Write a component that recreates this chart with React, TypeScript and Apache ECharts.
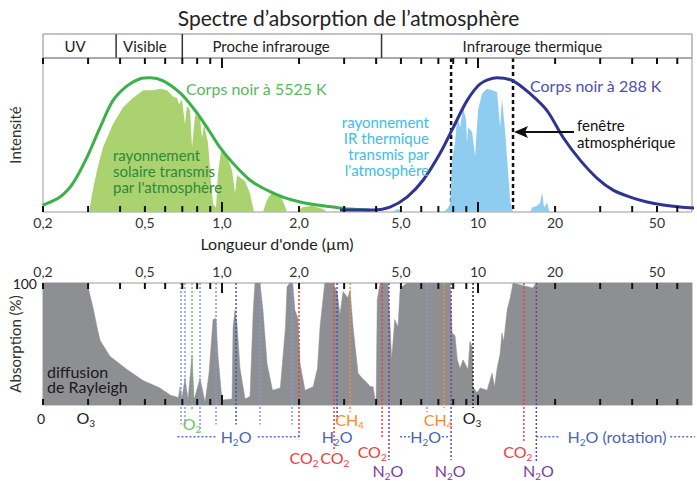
import React, { useEffect, useRef } from 'react';
import * as echarts from 'echarts';

const FONT = 'Lato, "Open Sans", "DejaVu Sans", sans-serif';

// ---- axis (wavelength, µm, log scale) ----
const X_MIN_UM = 0.2;
const X_MAX_UM = 68.5;
const tickUm = [0.2, 0.3, 0.4, 0.5, 0.6, 0.7, 0.8, 0.9, 1, 2, 3, 4, 5, 6, 7, 8, 9, 10, 20, 30, 40, 50, 60];
const longTickUm = [1, 10];
const tickLabelUm = [0.2, 0.5, 1, 2, 5, 10, 20, 50];
const tickLabelText = ['0,2', '0,5', '1,0', '2,0', '5,0', '10', '20', '50'];

// ---- spectral bands header ----
const bandEdgeUm = [0.386, 0.7, 4.2];
const bandLabelUm = [0.267, 0.5, 1.555, 16.3];
const bandLabelText = ['UV', 'Visible', 'Proche infrarouge', 'Infrarouge thermique'];

// ---- black body curves (normalised intensity) ----
const sunUm = [0.2, 0.233, 0.262, 0.297, 0.334, 0.375, 0.426, 0.479, 0.524, 0.589, 0.686, 0.771, 0.875, 0.982, 1.104, 1.288, 1.5, 1.73, 2.02, 2.35, 2.72, 3.16, 3.79];
const sunI = [0.045, 0.097, 0.187, 0.355, 0.548, 0.723, 0.819, 0.865, 0.871, 0.852, 0.774, 0.677, 0.548, 0.419, 0.316, 0.206, 0.142, 0.097, 0.065, 0.045, 0.032, 0.019, 0.012];
const earthUm = [2.89, 3.89, 4.53, 5.28, 6.1, 7.11, 8.0, 9.06, 10.2, 11.86, 13.7, 15.97, 18.6, 21.5, 25.1, 29.2, 33.7, 39.3, 45.7, 52.8, 61.5, 70.5];
const earthI = [0.013, 0.013, 0.032, 0.097, 0.206, 0.381, 0.548, 0.723, 0.832, 0.871, 0.852, 0.768, 0.658, 0.484, 0.335, 0.219, 0.142, 0.097, 0.065, 0.045, 0.032, 0.026];

// ---- transmitted radiation ----
const solarUm = [0.303, 0.311, 0.325, 0.343, 0.375, 0.411, 0.449, 0.492, 0.538, 0.573, 0.61, 0.644, 0.667, 0.68, 0.698, 0.717, 0.73, 0.75, 0.764, 0.785, 0.821, 0.836, 0.851, 0.882, 0.905, 0.923, 0.948, 0.965, 0.992, 1.042, 1.095, 1.125, 1.145, 1.231, 1.287, 1.334, 1.445, 1.5, 1.575, 1.69, 1.75, 1.795, 1.965, 2.05, 2.25, 2.48, 2.573];
const solarI = [0, 0.12, 0.27, 0.42, 0.57, 0.68, 0.74, 0.79, 0.79, 0.8, 0.79, 0.75, 0.74, 0.7, 0.73, 0.57, 0.69, 0.66, 0.42, 0.63, 0.61, 0.48, 0.57, 0.45, 0.2, 0.05, 0.03, 0.25, 0.4, 0.37, 0.27, 0.12, 0.24, 0.2, 0.12, 0, 0, 0.08, 0.13, 0.11, 0.05, 0, 0, 0.03, 0.04, 0.02, 0];
const irUm = [4.6, 4.87, 5.1, 7.3, 7.57, 7.78, 7.92, 8.13, 8.3, 8.51, 8.74, 8.98, 9.06, 9.14, 9.48, 9.74, 10.0, 10.37, 10.85, 11.35, 11.87, 12.2, 12.4, 12.75, 13.0, 13.36, 13.7, 15.97, 16.27, 17.0, 17.5, 17.8, 18.1, 18.6, 19.0];
const irI = [0, 0.02, 0, 0, 0.02, 0.05, 0.34, 0.45, 0.62, 0.55, 0.68, 0.6, 0.45, 0.55, 0.52, 0.36, 0.66, 0.77, 0.8, 0.79, 0.78, 0.55, 0.74, 0.53, 0.34, 0.07, 0, 0, 0.03, 0.04, 0.06, 0.13, 0.03, 0.06, 0];
const windowUm = [7.85, 13.7];

// ---- absorption (%) ----
const absUm = [0.2, 0.3, 0.302, 0.3135, 0.325, 0.334, 0.365, 0.426, 0.492, 0.573, 0.589, 0.61, 0.629, 0.6555, 0.676, 0.686, 0.698, 0.717, 0.737, 0.764, 0.778, 0.821, 0.859, 0.89, 0.923, 0.948, 0.965, 1.0, 1.095, 1.105, 1.125, 1.145, 1.176, 1.231, 1.287, 1.325, 1.346, 1.408, 1.445, 1.5, 1.575, 1.69, 1.77, 1.795, 1.84, 1.89, 1.925, 1.98, 2.018, 2.11, 2.27, 2.36, 2.415, 2.52, 2.71, 2.815, 2.89, 2.97, 3.1, 3.165, 3.25, 3.4, 3.53, 3.69, 3.8, 3.89, 3.96, 4.0, 4.04, 4.15, 4.45, 4.6, 4.73, 4.87, 4.96, 5.05, 5.28, 7.78, 7.92, 8.13, 8.3, 8.51, 8.74, 9.14, 9.3, 9.48, 9.56, 9.9, 10.2, 10.85, 11.35, 11.6, 11.87, 12.2, 12.4, 12.6, 13.0, 13.36, 13.7, 16.35, 16.9, 68.5];
const absPct = [100, 100, 94, 80, 64, 53, 40, 29, 20, 14, 12, 10, 8, 7, 6, 15, 5, 22, 4, 41, 4, 22, 2, 26, 70, 71, 40, 4, 5, 64, 78, 66, 30, 5, 7, 78, 100, 100, 78, 34, 12, 14, 64, 97, 100, 100, 78, 71, 34, 12, 15, 30, 64, 100, 100, 93, 74, 93, 88, 94, 64, 26, 22, 18, 15, 15, 5, 0, 86, 100, 100, 37, 70, 64, 94, 97, 100, 100, 59, 57, 37, 30, 37, 29, 52, 48, 15, 10, 14, 12, 26, 15, 30, 42, 59, 52, 78, 88, 100, 96, 100, 100];

// ---- absorbing gases ----
const H2O_LIGHT = '#8499d8';
const H2O_DARK = '#3f56b2';
const CO2_C = '#ee3d3d';
const CH4_C = '#f58c35';
const N2O_C = '#7a3f9d';
const O2_C = '#6cc466';
const O3_C = '#222222';
const gasLineUm = [0.692, 0.717, 0.764, 0.821, 0.948, 1.135, 1.408, 1.878, 2.0, 2.74, 2.815, 3.165, 4.22, 4.49, 6.32, 7.37, 7.85, 9.56, 15.1, 16.9];
const gasLineEnd = [-16, -16, -4, -22, -16, -16, -16, -16, -28, -38, -15, -6, -27, -45, -6, -2.5, -45, -2.5, -30, -47];
const gasLineColor = [H2O_LIGHT, H2O_LIGHT, O2_C, H2O_LIGHT, H2O_LIGHT, H2O_DARK, H2O_LIGHT, H2O_LIGHT, CO2_C, CO2_C, H2O_DARK, CH4_C, CO2_C, N2O_C, H2O_LIGHT, CH4_C, N2O_C, O3_C, CO2_C, N2O_C];
const bracketStartUm = [0.67, 1.38, 4.96, 7.24, 16.9, 56.3];
const bracketEndUm = [0.96, 2.0, 5.43, 7.64, 20.9, 70.5];
const BRACKET_LEVEL = -26;
const gasLabelUm = [0.294, 0.764, 1.135, 2.09, 2.76, 3.15, 2.815, 3.86, 4.45, 6.25, 6.98, 9.48, 7.78, 14.3, 17.2, 34.9];
const gasLabelLevel = [-10, -15.5, -26, -43, -43, -11.5, -26, -38, -54, -26, -11.5, -10, -54, -38, -54, -26];
const gasLabelFormula = ['O3', 'O2', 'H2O', 'CO2', 'CO2', 'CH4', 'H2O', 'CO2', 'N2O', 'H2O', 'CH4', 'O3', 'N2O', 'CO2', 'N2O', 'H2O (rotation)'];
const gasLabelColor = [O3_C, O2_C, '#4a64b8', CO2_C, CO2_C, CH4_C, '#4a64b8', CO2_C, N2O_C, '#4a64b8', CH4_C, O3_C, N2O_C, CO2_C, N2O_C, '#4a64b8'];

const L = (w: number) => Math.log10(w);
const pairs = (xs: number[], ys: number[]) => xs.map((w, i) => [L(w), ys[i]]);
const toRich = (s: string) => s.replace(/(\D+)|(\d+)/g, (_m: string, a: string, d: string) => (a ? `{m|${a}}` : `{s|${d}}`));

function buildOption(): any {
  const tickSeries = (g: number) => ({
    type: 'custom', xAxisIndex: g, yAxisIndex: g, silent: true, z: 6,
    data: tickUm.map((w) => [L(w), longTickUm.includes(w) ? 1 : 0]),
    renderItem: (params: any, api: any) => {
      const cs = params.coordSys;
      const x = api.coord([api.value(0), 0])[0];
      const len = api.value(1) ? 10 : 6;
      const st = { stroke: '#111', lineWidth: 2 };
      return {
        type: 'group', children: [
          { type: 'line', shape: { x1: x, y1: cs.y, x2: x, y2: cs.y + len }, style: st },
          { type: 'line', shape: { x1: x, y1: cs.y + cs.height, x2: x, y2: cs.y + cs.height - len }, style: st },
        ],
      };
    },
  });
  const tickLabelSeries = (g: number, above: boolean) => ({
    type: 'custom', xAxisIndex: g, yAxisIndex: g, silent: true, z: 6,
    data: tickLabelUm.map((w) => [L(w), 0]),
    renderItem: (params: any, api: any) => {
      const cs = params.coordSys;
      const x = api.coord([api.value(0), 0])[0];
      return {
        type: 'text', x, y: above ? cs.y - 12 : cs.y + cs.height + 10,
        style: { text: tickLabelText[params.dataIndex], fill: '#333', fontSize: 14, fontFamily: FONT, align: 'center', verticalAlign: 'middle' },
      };
    },
  });

  return {
    animation: false,
    backgroundColor: '#fff',
    title: {
      text: 'Spectre d’absorption de l’atmosphère', left: 'center', top: 2,
      textStyle: { fontSize: 21, fontWeight: 'normal', color: '#222', fontFamily: FONT },
    },
    grid: [
      { left: 43, top: 58, width: 649, height: 154, show: true, borderColor: '#999', borderWidth: 1, backgroundColor: 'transparent', outerBoundsMode: 'none', containLabel: false },
      { left: 43, top: 283, width: 649, height: 122, show: true, borderColor: '#999', borderWidth: 1, backgroundColor: 'transparent', outerBoundsMode: 'none', containLabel: false },
    ],
    xAxis: [0, 1].map((g) => ({ type: 'value', gridIndex: g, min: L(X_MIN_UM), max: L(X_MAX_UM), show: false })),
    yAxis: [
      {
        type: 'value', gridIndex: 0, min: 0, max: 1, name: 'Intensité', nameLocation: 'middle', nameGap: 21, nameRotate: 90, nameMoveOverlap: false,
        nameTextStyle: { fontSize: 15, color: '#333', fontFamily: FONT },
        axisLine: { show: false }, axisTick: { show: false }, axisLabel: { show: false }, splitLine: { show: false },
      },
      {
        type: 'value', gridIndex: 1, min: 0, max: 100, interval: 100, name: 'Absorption (%)', nameLocation: 'middle', nameGap: 21, nameRotate: 90, nameMoveOverlap: false,
        nameTextStyle: { fontSize: 15, color: '#333', fontFamily: FONT },
        axisLine: { show: false }, axisTick: { show: false }, splitLine: { show: false },
        axisLabel: { fontSize: 14, color: '#222', fontFamily: FONT, margin: 6, formatter: (v: number) => (v === 100 ? '100' : '') },
      },
    ],
    series: [
      {
        type: 'line', xAxisIndex: 0, yAxisIndex: 0, data: pairs(solarUm, solarI), showSymbol: false, silent: true,
        lineStyle: { width: 0 }, areaStyle: { color: '#aad36f', opacity: 1 },
      },
      {
        type: 'line', xAxisIndex: 0, yAxisIndex: 0, data: pairs(irUm, irI), showSymbol: false, silent: true,
        lineStyle: { width: 0 }, areaStyle: { color: '#8ecdf0', opacity: 1 },
      },
      {
        type: 'custom', xAxisIndex: 0, yAxisIndex: 0, silent: true,
        data: windowUm.map((w) => [L(w), 0]),
        renderItem: (params: any, api: any) => {
          const cs = params.coordSys;
          const x = api.coord([api.value(0), 0])[0];
          return { type: 'line', shape: { x1: x, y1: cs.y, x2: x, y2: cs.y + cs.height }, style: { stroke: '#111', lineWidth: 2.5, lineDash: [4, 3] } };
        },
      },
      {
        type: 'line', xAxisIndex: 0, yAxisIndex: 0, data: pairs(sunUm, sunI), showSymbol: false, smooth: 0.3, silent: true,
        lineStyle: { width: 3, color: '#3cb14a' },
      },
      {
        type: 'line', xAxisIndex: 0, yAxisIndex: 0, data: pairs(earthUm, earthI), showSymbol: false, smooth: 0.3, silent: true, clip: false,
        lineStyle: { width: 3, color: '#2f3494' },
      },
      tickSeries(0),
      tickLabelSeries(0, false),
      {
        type: 'custom', xAxisIndex: 0, yAxisIndex: 0, silent: true,
        data: bandEdgeUm.map((w) => [L(w), 0]),
        renderItem: (params: any, api: any) => {
          const cs = params.coordSys;
          const x = api.coord([api.value(0), 0])[0];
          const top = cs.y - 24;
          const children: any[] = [{ type: 'line', shape: { x1: x, y1: top, x2: x, y2: cs.y }, style: { stroke: '#333', lineWidth: 1.5 } }];
          if (params.dataIndex === 0) {
            children.push({ type: 'rect', shape: { x: cs.x, y: top, width: cs.width, height: 24 }, style: { fill: 'none', stroke: '#888', lineWidth: 1 } });
          }
          return { type: 'group', children };
        },
      },
      {
        type: 'custom', xAxisIndex: 0, yAxisIndex: 0, silent: true,
        data: bandLabelUm.map((w) => [L(w), 0]),
        renderItem: (params: any, api: any) => {
          const cs = params.coordSys;
          const x = api.coord([api.value(0), 0])[0];
          return {
            type: 'text', x, y: cs.y - 12,
            style: { text: bandLabelText[params.dataIndex], fill: '#222', fontSize: 15, fontFamily: FONT, align: 'center', verticalAlign: 'middle' },
          };
        },
      },
      // bottom panel
      {
        type: 'line', xAxisIndex: 1, yAxisIndex: 1, data: pairs(absUm, absPct), showSymbol: false, silent: true,
        lineStyle: { width: 0.5, color: '#8e8f93' }, areaStyle: { color: '#8e8f93', opacity: 1 },
      },
      {
        type: 'custom', xAxisIndex: 1, yAxisIndex: 1, silent: true, z: 4,
        data: gasLineUm.map((w, i) => [L(w), gasLineEnd[i]]),
        renderItem: (params: any, api: any) => {
          const top = api.coord([api.value(0), 100]);
          const bot = api.coord([api.value(0), api.value(1)]);
          return { type: 'line', shape: { x1: top[0], y1: top[1], x2: bot[0], y2: bot[1] }, style: { stroke: gasLineColor[params.dataIndex], lineWidth: 1.5, lineDash: [2, 2] } };
        },
      },
      {
        type: 'custom', xAxisIndex: 1, yAxisIndex: 1, silent: true, z: 4,
        data: bracketStartUm.map((w, i) => [L(w), BRACKET_LEVEL, L(bracketEndUm[i])]),
        renderItem: (params: any, api: any) => {
          const a = api.coord([api.value(0), api.value(1)]);
          const b = api.coord([api.value(2), api.value(1)]);
          return { type: 'line', shape: { x1: a[0], y1: a[1], x2: b[0], y2: b[1] }, style: { stroke: '#5a72c4', lineWidth: 1.5, lineDash: [2, 2] } };
        },
      },
      {
        type: 'custom', xAxisIndex: 1, yAxisIndex: 1, silent: true, z: 5,
        data: gasLabelUm.map((w, i) => [L(w), gasLabelLevel[i]]),
        renderItem: (params: any, api: any) => {
          const p = api.coord([api.value(0), api.value(1)]);
          const c = gasLabelColor[params.dataIndex];
          return {
            type: 'text', x: p[0], y: p[1],
            style: {
              text: toRich(gasLabelFormula[params.dataIndex]), fill: c, align: 'center', verticalAlign: 'middle',
              rich: {
                m: { fontSize: 16, fontFamily: FONT, fill: c },
                s: { fontSize: 10, fontFamily: FONT, fill: c, padding: [11, 0, 0, 0] },
              },
            },
          };
        },
      },
      tickSeries(1),
      tickLabelSeries(1, true),
    ],
    graphic: [
      { type: 'text', z: 100, x: 186, y: 88, style: { text: 'Corps noir à 5525 K', fill: '#57b85c', fontSize: 16, fontFamily: FONT, verticalAlign: 'middle' } },
      { type: 'text', z: 100, x: 530, y: 85, style: { text: 'Corps noir à 288 K', fill: '#4d4fae', fontSize: 16, fontFamily: FONT, verticalAlign: 'middle' } },
      { type: 'text', z: 100, x: 113, y: 147, style: { text: "rayonnement\nsolaire transmis\npar l'atmosphère", fill: '#2a8a3b', fontSize: 15, lineHeight: 16, fontFamily: FONT, verticalAlign: 'top' } },
      { type: 'text', z: 100, x: 429, y: 114, style: { text: "rayonnement\nIR thermique\ntransmis par\nl'atmosphère", fill: '#3dbdec', fontSize: 15, lineHeight: 16, fontFamily: FONT, align: 'right', verticalAlign: 'top' } },
      { type: 'text', z: 100, x: 577, y: 116, style: { text: 'fenêtre\natmosphérique', fill: '#111', fontSize: 15, lineHeight: 17, fontFamily: FONT, verticalAlign: 'top' } },
      { type: 'line', z: 100, shape: { x1: 574, y1: 132, x2: 522, y2: 132 }, style: { stroke: '#111', lineWidth: 2 } },
      { type: 'polygon', z: 100, shape: { points: [[514, 132], [528, 126], [525, 132], [528, 138]] }, style: { fill: '#111' } },
      { type: 'text', z: 100, x: 47, y: 364, style: { text: 'diffusion\nde Rayleigh', fill: '#1a1a1a', fontSize: 16, lineHeight: 15, fontFamily: FONT, verticalAlign: 'top' } },
      { type: 'text', z: 100, x: 277, y: 243, style: { text: "Longueur d'onde (µm)", fill: '#222', fontSize: 16, fontFamily: FONT, align: 'center', verticalAlign: 'middle' } },
      { type: 'text', z: 100, x: 41, y: 418, style: { text: '0', fill: '#222', fontSize: 14, fontFamily: FONT, align: 'center', verticalAlign: 'middle' } },
    ],
  };
}

export default function App() {
  const ref = useRef<HTMLDivElement>(null);
  useEffect(() => {
    document.body.style.margin = '0';
    const chart = echarts.init(ref.current as HTMLDivElement, undefined, { renderer: 'svg' });
    chart.setOption(buildOption());
    return () => chart.dispose();
  }, []);
  return <div ref={ref} style={{ width: 697, height: 481 }} />;
}
